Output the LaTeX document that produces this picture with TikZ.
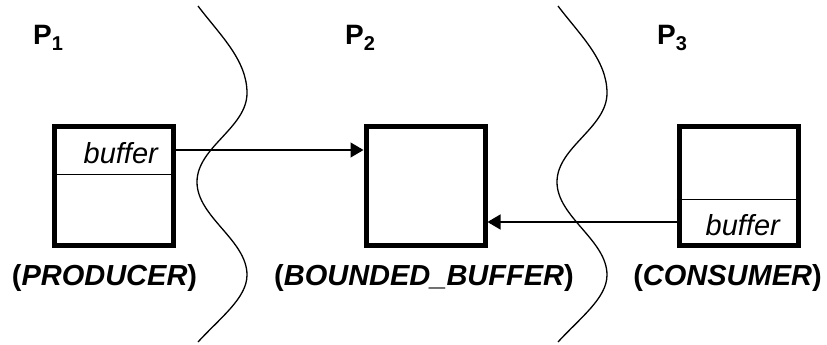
\documentclass[tikz,border=0pt]{standalone}
\usepackage{fontspec}
\setmainfont{Liberation Sans}
\usetikzlibrary{arrows.meta}
\begin{document}
\begin{tikzpicture}[x=1pt,y=-1pt,
  procbox/.style={draw, line width=5pt, minimum width=119pt, minimum height=119pt, inner sep=0pt},
  link/.style={line width=1.3pt, -{Triangle[length=13pt,width=15pt]}},
  wave/.style={line width=1.3pt},
  divider/.style={line width=1pt},
  title/.style={font=\fontsize{28}{30}\selectfont\bfseries, anchor=base west, inner sep=0pt},
  role/.style={font=\fontsize{29}{32}\selectfont\bfseries, anchor=base, inner sep=0pt},
  field/.style={font=\fontsize{29}{32}\selectfont\itshape, anchor=base east, inner sep=0pt}]

\useasboundingbox (0,0) rectangle (827,345);

% process names
\node[title] (t1) at (33,45) {P\raisebox{-6pt}{\fontsize{20}{20}\selectfont 1}};
\node[title] (t2) at (345,45) {P\raisebox{-6pt}{\fontsize{20}{20}\selectfont 2}};
\node[title] (t3) at (657,45) {P\raisebox{-6pt}{\fontsize{20}{20}\selectfont 3}};

% the three processes
\node[procbox] (prod) at (114,186) {};
\node[procbox] (buf) at (425.5,186) {};
\node[procbox] (cons) at (738.5,186) {};

% buffer compartments
\coordinate (pd) at (0,174);
\coordinate (cd) at (0,199);
\draw[divider] (prod.west |- pd) -- (prod.east |- pd);
\draw[divider] (cons.west |- cd) -- (cons.east |- cd);
\node[field] (pf) at (158,163) {buffer};
\node[field] (cf) at (780,235) {buffer};

% connections to the bounded buffer
\coordinate (a1) at (0,150);
\coordinate (a2) at (0,222);
\draw[link] (prod.east |- a1) -- (buf.west |- a1);
\draw[link] (cons.west |- a2) -- (buf.east |- a2);

% roles
\node[role] (r1) at (104.5,285) {(\textit{PRODUCER})};
\node[role] (r2) at (424,285) {(\textit{BOUNDED\_BUFFER})};
\node[role] (r3) at (727.5,285) {(\textit{CONSUMER})};

% process boundaries
\foreach \dx in {0,360}{
  \begin{scope}[xshift=\dx pt]
    \draw[wave] (198,6) .. controls (220,35) and (247,60) .. (247,93)
      .. controls (247,128) and (197,147) .. (197,182)
      .. controls (197,217) and (247,240) .. (247,275)
      .. controls (247,298) and (220,318) .. (198,342);
  \end{scope}
}
\end{tikzpicture}
\end{document}
